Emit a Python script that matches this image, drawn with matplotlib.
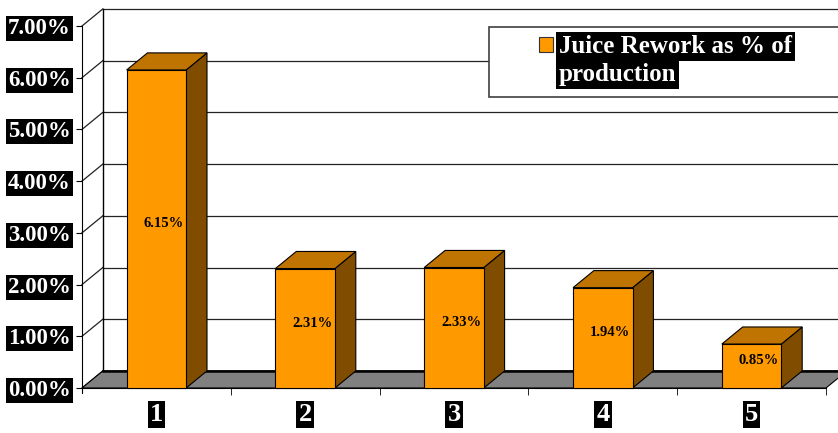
import matplotlib
matplotlib.use('Agg')
import matplotlib.pyplot as plt
from matplotlib.patches import Polygon, Rectangle, Patch
import numpy as np

categories = ['1', '2', '3', '4', '5']
rework_pct = [6.15, 2.31, 2.33, 1.94, 0.85]
y_ticks = [0, 1, 2, 3, 4, 5, 6, 7]
legend_lines = ['Juice Rework as % of', 'production']

front_col = '#FF9900'
top_col = '#BF7300'
side_col = '#7F4C00'
floor_col = '#808080'
serif = 'Liberation Serif'

# depth of the fake 3d box (category units, % units)
dx, dy = 0.14, 0.33
bar_w = 0.4

fig = plt.figure(figsize=(8.38, 4.33), dpi=100)
ax = fig.add_axes([82/838, 45/433, 744/838, 362/433])
ax.set_xlim(0.5, 5.5)
ax.set_ylim(0, 7)
x = np.arange(1, len(categories) + 1)
x0, x1 = 0.5, len(categories) + 0.5

# back wall, left wall and gridlines
ax.add_patch(Rectangle((x0 + dx, dy), x1 - x0 + 0.5, y_ticks[-1], facecolor='white',
                       edgecolor='none', clip_on=False, zorder=0))
for t in y_ticks:
    ax.plot([x0 + dx, x1 + dx + 0.3], [t + dy, t + dy], color='#222222', lw=0.9,
            clip_on=False, zorder=1)
    ax.plot([x0, x0 + dx], [t, t + dy], color='#222222', lw=0.9, clip_on=False, zorder=1)
ax.plot([x0 + dx, x0 + dx], [dy, y_ticks[-1] + dy], color='black', lw=1, clip_on=False, zorder=1)

# floor
ax.add_patch(Polygon([(x0, 0), (x1, 0), (x1 + dx, dy), (x0 + dx, dy)], closed=True,
                     facecolor=floor_col, edgecolor='black', lw=0.8, clip_on=False, zorder=2))
ax.plot([x0 + dx, x1 + dx], [dy, dy], color='black', lw=1.8, clip_on=False, zorder=2)

# bars
for xi, v in zip(x, rework_pct):
    l, r = xi - bar_w / 2, xi + bar_w / 2
    ax.add_patch(Polygon([(r, 0), (r + dx, dy), (r + dx, v + dy), (r, v)], closed=True,
                         facecolor=side_col, edgecolor='black', lw=0.8, clip_on=False, zorder=3))
    ax.add_patch(Polygon([(l, v), (r, v), (r + dx, v + dy), (l + dx, v + dy)], closed=True,
                         facecolor=top_col, edgecolor='black', lw=0.8, clip_on=False, zorder=3))
    ax.add_patch(Rectangle((l, 0), bar_w, v, facecolor=front_col, edgecolor='black',
                           lw=0.8, clip_on=False, zorder=3))
    ax.text(xi + 0.05, v / 2 + 0.1, '%.2f%%' % v, ha='center', va='center',
            fontsize=10.5, fontweight='bold', family=serif, zorder=4)

for s in ['top', 'right']:
    ax.spines[s].set_visible(False)
ax.spines['left'].set_bounds(-0.1, 7)
ax.spines['bottom'].set_linewidth(0.8)

ax.set_yticks(y_ticks, ['%.2f%%' % t for t in y_ticks])
ax.tick_params(axis='y', length=4, pad=4, labelcolor='white', labelsize=16.5)
ax.set_xticks(x, categories)
ax.set_xticks(np.arange(1.5, x1 + 0.1, 1), minor=True)
ax.tick_params(axis='x', which='major', length=0, pad=11, labelcolor='white', labelsize=19)
ax.tick_params(axis='x', which='minor', length=5)
for lab in ax.get_yticklabels() + ax.get_xticklabels():
    lab.set_fontfamily(serif)
    lab.set_fontweight('bold')
    lab.set_bbox(dict(facecolor='black', edgecolor='none', pad=1.5))

# legend box
fig.patches.append(Rectangle((489/838, 1 - 97/433), 360/838, 70/433, transform=fig.transFigure,
                             facecolor='white', edgecolor='#404040', lw=1.2, zorder=1))
handles = [Patch(facecolor=front_col, edgecolor='#333333', lw=0.8),
           Patch(facecolor='none', edgecolor='none')]
leg = fig.legend(handles, legend_lines, loc='upper left', bbox_to_anchor=(539/838, 1 - 35/433),
                 frameon=False, prop={'family': serif, 'weight': 'bold', 'size': 18},
                 handlelength=0.55, handleheight=0.55, handletextpad=0.25,
                 labelspacing=0.22, borderpad=0, borderaxespad=0)
for t in leg.get_texts():
    t.set_color('white')
    t.set_bbox(dict(facecolor='black', edgecolor='none', pad=2))

fig.savefig('out.png', dpi=100)
